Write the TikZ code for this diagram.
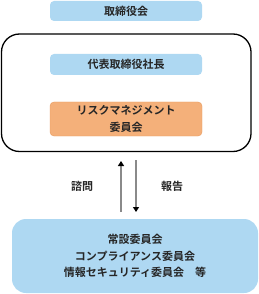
\documentclass[tikz,border=0pt]{standalone}
\usepackage{fontspec}
\newfontfamily\jp{Noto Sans CJK JP}[BoldFont={Noto Sans CJK JP Bold}]
\usetikzlibrary{arrows.meta}
\definecolor{lblue}{HTML}{AED8F2}
\definecolor{lorange}{HTML}{F4B07A}
\definecolor{dorange}{HTML}{E89A5E}
\definecolor{agray}{HTML}{8A8A8A}
\begin{document}
\begin{tikzpicture}[x=1pt,y=-1pt,
  every node/.style={font=\jp\bfseries\fontsize{11}{16.5}\selectfont, text=black!85},
  bluebox/.style={fill=lblue, rounded corners=4pt, inner sep=0pt, align=center},
  orbox/.style={fill=lorange, draw=dorange, line width=0.4pt, rounded corners=4pt, inner sep=0pt, align=center},
  arr/.style={draw=agray, line width=1.2pt, -{Triangle[length=5pt,width=6pt,black]}},
  lbl/.style={inner sep=0pt}]
\useasboundingbox (0,0) rectangle (259,294);
\node[bluebox, minimum width=152pt, minimum height=20pt] (board) at (126,11) {取締役会};
\draw[line width=1.3pt, rounded corners=18pt] (1.5,34) rectangle (251,151.5);
\node[bluebox, minimum width=152pt, minimum height=21pt] (ceo) at (126,64.5) {代表取締役社長};
\node[orbox, minimum width=152pt, minimum height=34pt] (rm) at (126,119) {リスクマネジメント\\委員会};
\node[fill=lblue, rounded corners=14pt, minimum width=246pt, minimum height=74pt, inner sep=0pt, align=center] (com) at (135,256) {常設委員会\\コンプライアンス委員会\\情報セキュリティ委員会　等};
\coordinate (upS) at (121,212);
\coordinate (upE) at (121,161);
\coordinate (dnS) at (136,160);
\coordinate (dnE) at (136,212);
\draw[arr] (upS) -- (upE);
\draw[arr] (dnS) -- (dnE);
\node[lbl] (l1) at (82,186) {諮問};
\node[lbl] (l2) at (172,186) {報告};
\end{tikzpicture}
\end{document}
